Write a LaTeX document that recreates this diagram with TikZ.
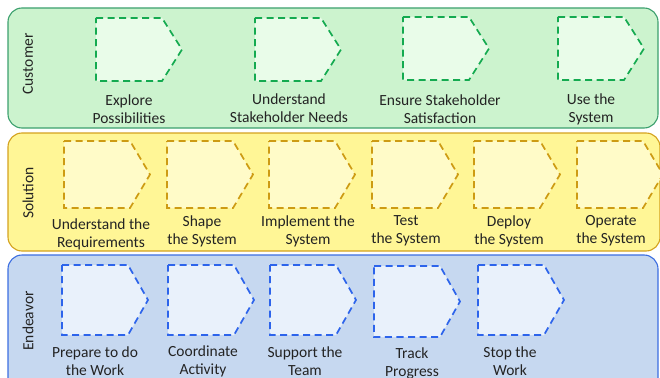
\documentclass[tikz,border=0pt]{standalone}
\usepackage{fontspec}
\setmainfont{Carlito}
\definecolor{cusfill}{RGB}{204,243,206}
\definecolor{cusline}{RGB}{60,160,110}
\definecolor{cusbox}{RGB}{233,252,233}
\definecolor{cusdash}{RGB}{20,170,80}
\definecolor{solfill}{RGB}{255,246,150}
\definecolor{solline}{RGB}{212,162,30}
\definecolor{solbox}{RGB}{255,251,200}
\definecolor{soldash}{RGB}{205,155,20}
\definecolor{endfill}{RGB}{198,216,240}
\definecolor{endline}{RGB}{60,110,225}
\definecolor{endbox}{RGB}{233,241,251}
\definecolor{enddash}{RGB}{45,100,235}
\definecolor{txt}{RGB}{35,35,35}
\tikzset{
  lane/.style={rounded corners=14pt, line width=1.1pt},
  stepshape/.style={dash pattern=on 7pt off 4.5pt, line width=1.7pt},
  steplabel/.style={align=center, font=\fontsize{15.5}{18}\selectfont, text=txt, inner sep=0pt},
  lanelabel/.style={rotate=90, font=\fontsize{15.5}{18}\selectfont, text=txt, inner sep=0pt}
}
% name, left x, top y, bottom y, fill, dash colour
\newcommand\mystep[6]{%
  \draw[stepshape, fill=#5, draw=#6] (#2,#3) -- (#2+66,#3) -- (#2+86,{(#3+#4)/2}) -- (#2+66,#4) -- (#2,#4) -- cycle;
  \coordinate (#1) at (#2+33,{(#3+#4)/2});
}
\begin{document}
\begin{tikzpicture}[x=1pt,y=-1pt]
\useasboundingbox (0,0) rectangle (660,377);
\begin{scope}
\clip (0,0) rectangle (660,377);
% lanes
\draw[lane, fill=cusfill, draw=cusline] (8,8) rectangle (658,128);
\draw[lane, fill=solfill, draw=solline] (8,133) rectangle (660,251);
\draw[lane, fill=endfill, draw=endline] (8,255) rectangle (658,395);
% customer
\mystep{c1}{96}{18}{81}{cusbox}{cusdash}
\mystep{c2}{255}{18}{81}{cusbox}{cusdash}
\mystep{c3}{403}{17}{80}{cusbox}{cusdash}
\mystep{c4}{558}{17}{80}{cusbox}{cusdash}
% solution
\mystep{s1}{64}{141}{208}{solbox}{soldash}
\mystep{s2}{167}{141}{208}{solbox}{soldash}
\mystep{s3}{269}{141}{208}{solbox}{soldash}
\mystep{s4}{372}{141}{208}{solbox}{soldash}
\mystep{s5}{474}{141}{208}{solbox}{soldash}
\mystep{s6}{577}{141}{208}{solbox}{soldash}
% endeavor
\mystep{e1}{62}{265}{335}{endbox}{enddash}
\mystep{e2}{168}{265}{335}{endbox}{enddash}
\mystep{e3}{270}{265}{335}{endbox}{enddash}
\mystep{e4}{374}{266}{337}{endbox}{enddash}
\mystep{e5}{478}{265}{335}{endbox}{enddash}
% lane labels
\node[lanelabel] (lc) at (28,64) {Customer};
\node[lanelabel] (ls) at (28,193) {Solution};
\node[lanelabel] (le) at (28,321) {Endeavor};
% step labels
\node[steplabel] (tc1) at (129,109) {Explore\\Possibilities};
\node[steplabel] (tc2) at (289,108) {Understand\\Stakeholder Needs};
\node[steplabel] (tc3) at (440,109) {Ensure Stakeholder\\Satisfaction};
\node[steplabel] (tc4) at (591,109) {Use the\\System};
\node[steplabel] (ts1) at (101,234) {Understand the\\Requirements};
\node[steplabel] (ts2) at (202,231) {Shape\\the System};
\node[steplabel] (ts3) at (308,231) {Implement the\\System};
\node[steplabel] (ts4) at (406,231) {Test\\the System};
\node[steplabel] (ts5) at (509,231) {Deploy\\the System};
\node[steplabel] (ts6) at (611,231) {Operate\\the System};
\node[steplabel] (te1) at (95,361) {Prepare to do\\the Work};
\node[steplabel] (te2) at (203,361) {Coordinate\\Activity};
\node[steplabel] (te3) at (305,361) {Support the\\Team};
\node[steplabel] (te4) at (412,363) {Track\\Progress};
\node[steplabel] (te5) at (510,361) {Stop the\\Work};
\end{scope}
\end{tikzpicture}
\end{document}
